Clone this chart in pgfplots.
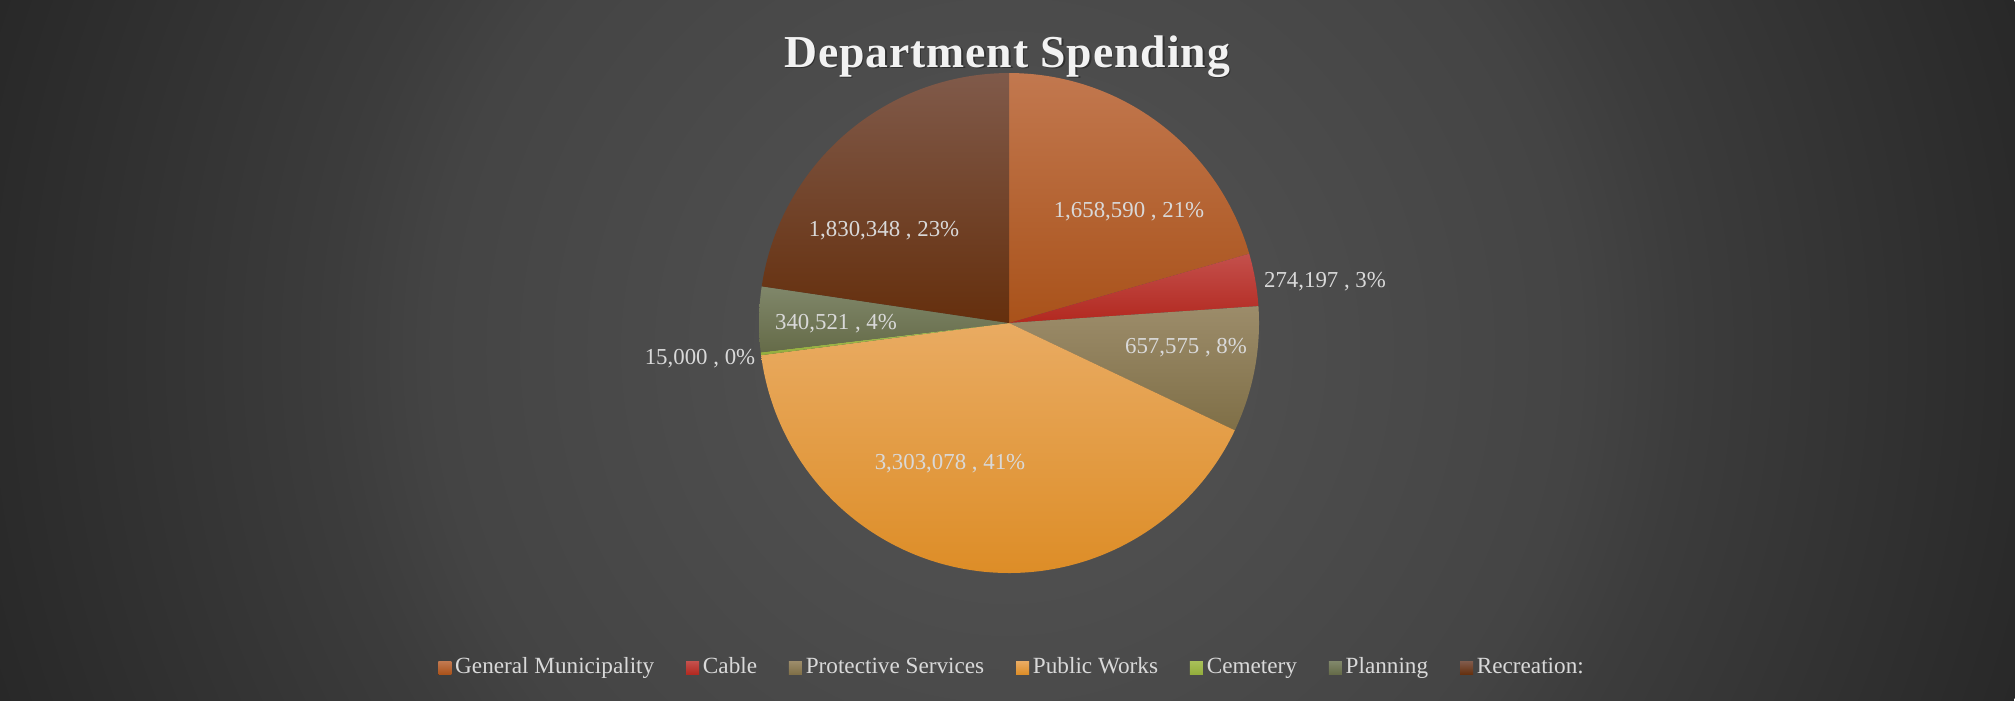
\documentclass[border=0pt]{standalone}
\usepackage{pgfplots}
\pgfplotsset{compat=1.18}
\usepackage{pgfplotstable}
\usepackage{fontspec}
\setmainfont{Liberation Serif}
\newfontfamily\titlefont[LetterSpace=2]{Liberation Serif}

\definecolor{gmT}{HTML}{C2784F}\definecolor{gmB}{HTML}{A9521A}
\definecolor{cbT}{HTML}{C4504C}\definecolor{cbB}{HTML}{B2281F}
\definecolor{psT}{HTML}{9C8C6A}\definecolor{psB}{HTML}{7F6F47}
\definecolor{pwT}{HTML}{E9AB62}\definecolor{pwB}{HTML}{DD8D27}
\definecolor{ceT}{HTML}{A8C058}\definecolor{ceB}{HTML}{93AD3C}
\definecolor{plT}{HTML}{80876A}\definecolor{plB}{HTML}{656B48}
\definecolor{rcT}{HTML}{805A4A}\definecolor{rcB}{HTML}{652F0D}
\definecolor{lbl}{HTML}{D9D9D9}
\definecolor{bg0}{HTML}{565656}
\definecolor{bg1}{HTML}{4D4D4D}
\definecolor{bg2}{HTML}{444444}
\definecolor{bg3}{HTML}{3C3C3C}
\definecolor{bg4}{HTML}{2B2B2B}
\definecolor{bg5}{HTML}{282828}
\pgfdeclareradialshading{bgshade}{\pgfpoint{0bp}{0bp}}{color(0bp)=(bg0); color(6.3bp)=(bg1); color(13.4bp)=(bg2); color(15.9bp)=(bg3); color(23.6bp)=(bg4); color(25bp)=(bg5); color(50bp)=(bg5)}

\pgfplotstableread{
idx value
0 1658590
1 274197
2 657575
3 3303078
4 15000
5 340521
6 1830348
}\spend

\pgfplotstablegetelem{0}{value}\of\spend \edef\vA{\pgfplotsretval}
\pgfplotstablegetelem{1}{value}\of\spend \edef\vB{\pgfplotsretval}
\pgfplotstablegetelem{2}{value}\of\spend \edef\vC{\pgfplotsretval}
\pgfplotstablegetelem{3}{value}\of\spend \edef\vD{\pgfplotsretval}
\pgfplotstablegetelem{4}{value}\of\spend \edef\vE{\pgfplotsretval}
\pgfplotstablegetelem{5}{value}\of\spend \edef\vF{\pgfplotsretval}
\pgfplotstablegetelem{6}{value}\of\spend \edef\vG{\pgfplotsretval}
\edef\total{\fpeval{\vA+\vB+\vC+\vD+\vE+\vF+\vG}}
\edef\eA{\fpeval{round(360*(\vA)/\total,4)}}
\edef\eB{\fpeval{round(360*(\vA+\vB)/\total,4)}}
\edef\eC{\fpeval{round(360*(\vA+\vB+\vC)/\total,4)}}
\edef\eD{\fpeval{round(360*(\vA+\vB+\vC+\vD)/\total,4)}}
\edef\eE{\fpeval{round(360*(\vA+\vB+\vC+\vD+\vE)/\total,4)}}
\edef\eF{\fpeval{round(360*(\vA+\vB+\vC+\vD+\vE+\vF)/\total,4)}}
\edef\eG{360}

\def\cx{1009}
\def\cy{377}
\def\rr{250}

\begin{document}
\begin{tikzpicture}
\begin{scope}
\clip (0,0) rectangle (20.15cm,7cm);
\shade[shading=bgshade] (10.07cm,3.5cm) circle (10.66cm);
\end{scope}
\begin{axis}[
  at={(0,0)}, anchor=south west,
  width=20.15cm, height=7cm, scale only axis,
  xmin=0, xmax=2015, ymin=0, ymax=700,
  hide axis, clip=false,
  legend columns=7,
  legend image code/.code={\fill[#1,draw=none] (0mm,-0.65mm) rectangle (1.3mm,0.65mm);},
  legend style={at={(axis cs:1013,32)}, anchor=center, draw=none, fill=none,
    font=\fontsize{6.6}{8}\selectfont, text=lbl,
    nodes={inner sep=1.1pt},
    /tikz/every even column/.append style={column sep=2.8mm}},
  every axis plot/.append style={draw=none, samples=120, variable=\t},
]
\addplot[top color=gmT, bottom color=gmB, domain=0:\eA] ({\cx+\rr*sin(\t)},{\cy+\rr*cos(\t)}) -- (\cx,\cy) -- cycle;
\addlegendentry{General Municipality}
\addplot[top color=cbT, bottom color=cbB, domain=\eA:\eB] ({\cx+\rr*sin(\t)},{\cy+\rr*cos(\t)}) -- (\cx,\cy) -- cycle;
\addlegendentry{Cable}
\addplot[top color=psT, bottom color=psB, domain=\eB:\eC] ({\cx+\rr*sin(\t)},{\cy+\rr*cos(\t)}) -- (\cx,\cy) -- cycle;
\addlegendentry{Protective Services}
\addplot[top color=pwT, bottom color=pwB, domain=\eC:\eD] ({\cx+\rr*sin(\t)},{\cy+\rr*cos(\t)}) -- (\cx,\cy) -- cycle;
\addlegendentry{Public Works}
\addplot[top color=ceT, bottom color=ceB, domain=\eD:\eE, samples=4] ({\cx+\rr*sin(\t)},{\cy+\rr*cos(\t)}) -- (\cx,\cy) -- cycle;
\addlegendentry{Cemetery}
\addplot[top color=plT, bottom color=plB, domain=\eE:\eF] ({\cx+\rr*sin(\t)},{\cy+\rr*cos(\t)}) -- (\cx,\cy) -- cycle;
\addlegendentry{Planning}
\addplot[top color=rcT, bottom color=rcB, domain=\eF:\eG] ({\cx+\rr*sin(\t)},{\cy+\rr*cos(\t)}) -- (\cx,\cy) -- cycle;
\addlegendentry{Recreation:}

\begin{scope}[every node/.style={anchor=base, text=lbl, font=\fontsize{6.5}{8}\selectfont, inner sep=0pt}]
\node at (axis cs:1129,482.5) {1,658,590 , 21\%};
\node at (axis cs:1325,412.5) {274,197 , 3\%};
\node at (axis cs:1186,346.5) {657,575 , 8\%};
\node at (axis cs:950,230.5) {3,303,078 , 41\%};
\node at (axis cs:700,335.5) {15,000 , 0\%};
\node at (axis cs:836,370.5) {340,521 , 4\%};
\node at (axis cs:884,463.5) {1,830,348 , 23\%};
\end{scope}

\node[anchor=base, inner sep=0pt, text=black, opacity=0.35, font=\titlefont\bfseries\fontsize{13}{15}\selectfont] at (axis cs:1008.5,631.5) {Department Spending};
\node[anchor=base, inner sep=0pt, text=white!95!black, font=\titlefont\bfseries\fontsize{13}{15}\selectfont] at (axis cs:1007,633) {Department Spending};
\end{axis}
\end{tikzpicture}
\end{document}
